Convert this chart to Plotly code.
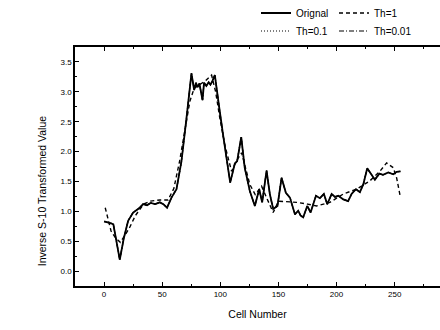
import plotly.graph_objects as go

# Original signal
orig_x = [0, 3, 6, 8, 10, 13.5, 17, 20.7, 25, 30.7, 33.6, 37, 40, 44, 48, 51, 54.2, 58, 62.3,
          66.6, 70.9, 75.2, 77.5, 79, 80.5, 82, 84.7, 86, 88, 90, 91.5, 93, 95.3, 96.7, 99,
          102.4, 105.5, 108.5, 112.5, 114.5, 118, 121, 125.4, 129.7, 133.5, 136, 139.8, 142.6,
          145.5, 149.2, 152.7, 156.4, 159.9, 164.2, 167, 169, 171.3, 174.8, 177.7, 182.3, 185.7,
          189.1, 192, 195.8, 198.7, 201.5, 205.8, 210, 212.9, 216.7, 220.1, 223, 226.4, 230.2,
          233, 236.8, 240, 244.5, 248.8, 251.7, 255]
orig_y = [0.83, 0.82, 0.80, 0.78, 0.55, 0.19, 0.55, 0.84, 0.98, 1.06, 1.12, 1.10, 1.14, 1.12,
          1.15, 1.12, 1.06, 1.23, 1.37, 1.84, 2.56, 3.31, 3.03, 3.15, 3.08, 3.14, 2.86, 3.15,
          3.10, 3.16, 3.12, 3.17, 3.28, 3.06, 2.75, 2.28, 1.85, 1.48, 1.80, 1.84, 2.24, 1.73,
          1.34, 1.09, 1.37, 1.15, 1.68, 1.29, 1.04, 1.09, 1.56, 1.31, 1.23, 0.95, 1.01, 0.93,
          0.90, 1.09, 0.98, 1.26, 1.22, 1.29, 1.12, 1.29, 1.24, 1.26, 1.20, 1.17, 1.29, 1.37,
          1.32, 1.45, 1.72, 1.62, 1.53, 1.63, 1.61, 1.65, 1.62, 1.66, 1.67]

# Th=1 reconstruction
th1_x = [1, 3.5, 6, 10, 14, 18, 22, 27, 30, 34, 40, 48, 55, 60, 65, 69.5, 73.8, 77.5, 82, 87,
         92.5, 96, 99.6, 104, 109.7, 113.8, 118.3, 122, 125.4, 130, 135.5, 140, 145.5, 150, 158,
         165.6, 175, 182.8, 194.3, 205.8, 217.3, 228.7, 237.3, 243.1, 248.8, 251.7, 255]
th1_y = [1.06, 0.85, 0.67, 0.55, 0.48, 0.60, 0.73, 0.93, 1.02, 1.12, 1.17, 1.19, 1.19, 1.38,
         1.84, 2.39, 2.84, 3.06, 3.12, 3.18, 3.28, 3.00, 2.56, 2.10, 1.67, 1.84, 1.98, 1.72,
         1.45, 1.28, 1.42, 1.22, 0.98, 1.17, 1.16, 1.15, 1.12, 1.09, 1.15, 1.29, 1.37, 1.51,
         1.67, 1.81, 1.73, 1.56, 1.23]

# Th=0.1 and Th=0.01 coincide with the original curve
th01_x = list(orig_x)
th01_y = list(orig_y)
th001_x = list(orig_x)
th001_y = list(orig_y)

names = ["Orignal", "Th=1", "Th=0.1", "Th=0.01"]

FONT = "Liberation Sans, Arial, sans-serif"

fig = go.Figure()
fig.add_trace(go.Scatter(x=th01_x, y=th01_y, mode="lines", name=names[2], legend="legend2",
                         legendrank=1,
                         line=dict(color="black", width=1.2, dash="1px,2px")))
fig.add_trace(go.Scatter(x=th001_x, y=th001_y, mode="lines", name=names[3], legend="legend2",
                         legendrank=2,
                         line=dict(color="black", width=1.2, dash="5px,2px,1px,2px")))
fig.add_trace(go.Scatter(x=orig_x, y=orig_y, mode="lines", name=names[0], legend="legend",
                         legendrank=1,
                         line=dict(color="black", width=1.8)))
fig.add_trace(go.Scatter(x=th1_x, y=th1_y, mode="lines", name=names[1], legend="legend",
                         legendrank=2,
                         line=dict(color="black", width=1.4, dash="4px,3px")))

leg_common = dict(orientation="h", xanchor="left", yanchor="middle",
                  xref="container", yref="container",
                  entrywidth=33, entrywidthmode="pixels", traceorder="normal",
                  font=dict(size=10, family=FONT), bgcolor="rgba(0,0,0,0)",
                  itemwidth=30, tracegroupgap=0, borderwidth=0)

fig.update_layout(
    width=440, height=330,
    margin=dict(l=75, r=0, t=45, b=44),
    paper_bgcolor="white", plot_bgcolor="white",
    font=dict(family=FONT, color="black", size=10),
    legend=dict(x=256 / 440, y=1 - 13 / 330, **leg_common),
    legend2=dict(x=256 / 440, y=1 - 31 / 330, **leg_common),
    xaxis=dict(range=[-25, 289], showgrid=False, zeroline=False, showline=True,
               linecolor="black", linewidth=1.5, mirror="ticks", ticks="inside", ticklen=4,
               tickwidth=1.2, tickcolor="black", dtick=50, tick0=0,
               tickfont=dict(size=8, family=FONT),
               minor=dict(ticks="inside", ticklen=2, dtick=25, tickcolor="black"),
               title=dict(text="Cell Number", font=dict(size=10.5, family=FONT), standoff=12)),
    yaxis=dict(range=[-0.25, 3.75], showgrid=False, zeroline=False, showline=True,
               linecolor="black", linewidth=1.5, ticks="inside", ticklen=4,
               tickwidth=1.2, tickcolor="black", dtick=0.5, tick0=0, tickformat=".1f",
               tickfont=dict(size=8, family=FONT),
               minor=dict(ticks="inside", ticklen=2, dtick=0.25, tickcolor="black")),
    annotations=[dict(text="Inverse S-10 Transformed Value", textangle=-90,
                      xref="paper", yref="paper", x=-0.088, y=0.40, xanchor="center",
                      yanchor="middle", showarrow=False, font=dict(size=10.5, family=FONT))],
)

fig.write_html("out.html")
